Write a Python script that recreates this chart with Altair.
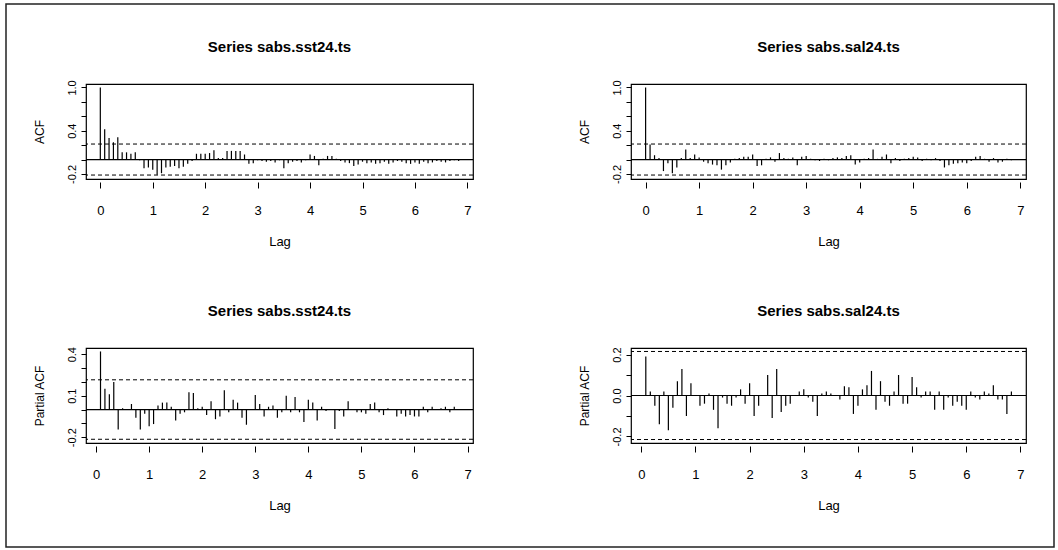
import altair as alt
import pandas as pd

# ---------------- data ----------------
LAG_STEP = 1 / 12
CI = 0.215
X_TICKS = [0, 1, 2, 3, 4, 5, 6, 7]

acf_sst = [1.00, 0.42, 0.30, 0.24, 0.31, 0.10, 0.10, 0.08, 0.10, -0.01,
           -0.12, -0.11, -0.14, -0.21, -0.19, -0.11, -0.10, -0.09, -0.12, -0.10,
           -0.06, -0.02, 0.08, 0.08, 0.08, 0.09, 0.13, 0.02, 0.02, 0.12,
           0.12, 0.12, 0.12, 0.07, -0.06, -0.05, -0.01, -0.02, -0.03, -0.02,
           -0.04, -0.01, -0.12, -0.05, -0.03, -0.02, -0.04, -0.01, 0.07, 0.05,
           -0.08, 0.01, 0.05, 0.05, 0.01, -0.02, -0.04, -0.05, -0.09, -0.07,
           -0.03, -0.05, -0.04, -0.06, -0.05, -0.03, -0.06, -0.04, -0.02, -0.03,
           -0.05, -0.06, -0.04, -0.06, -0.03, -0.05, -0.04, -0.02, -0.03, -0.04,
           -0.02, -0.01, -0.02]

acf_sal = [1.00, 0.21, 0.06, 0.02, -0.16, -0.05, -0.19, -0.11, 0.02, 0.14,
           0.02, 0.07, 0.03, -0.03, -0.05, -0.07, -0.08, -0.14, -0.08, -0.04,
           0.01, 0.02, 0.04, 0.04, 0.07, -0.09, -0.08, 0.01, 0.03, -0.03,
           0.09, 0.02, 0.01, 0.03, -0.08, 0.04, 0.05, 0.01, -0.01, -0.02,
           0.01, -0.01, 0.02, 0.03, 0.02, 0.05, 0.06, -0.07, -0.04, 0.01,
           0.02, 0.14, 0.01, 0.04, 0.07, -0.05, 0.02, -0.02, 0.01, 0.02,
           0.04, 0.03, -0.02, 0.01, -0.01, 0.02, -0.02, -0.11, -0.08, -0.06,
           -0.05, -0.04, -0.05, -0.02, 0.04, 0.05, 0.01, -0.03, 0.02, -0.04,
           -0.03, 0.01, -0.01]

pacf_sst = [0.42, 0.15, 0.11, 0.20, -0.145, 0.01, 0.00, 0.04, -0.06, -0.145,
            -0.03, -0.12, -0.105, 0.03, 0.05, 0.05, 0.02, -0.08, -0.03, -0.02,
            0.125, 0.12, 0.01, 0.02, -0.04, 0.06, -0.07, -0.05, 0.14, -0.02,
            0.07, 0.05, -0.06, -0.11, 0.00, 0.105, 0.04, -0.05, 0.02, 0.03,
            -0.06, -0.02, 0.10, -0.02, 0.09, -0.02, -0.09, 0.07, 0.05, -0.08,
            0.02, -0.01, 0.00, -0.14, -0.01, -0.05, 0.06, 0.00, -0.02, -0.02,
            -0.03, 0.04, 0.05, -0.02, -0.04, 0.01, 0.00, -0.05, -0.03, -0.05,
            -0.04, -0.05, -0.05, 0.02, -0.02, 0.02, 0.00, 0.01, 0.02, -0.02,
            0.02, 0.00]

pacf_sal = [0.19, 0.02, -0.05, -0.14, 0.02, -0.17, -0.06, 0.07, 0.13, -0.10,
            0.06, 0.00, -0.05, -0.04, 0.01, -0.07, -0.16, -0.01, -0.04, -0.05,
            -0.01, 0.03, -0.04, 0.06, -0.10, -0.05, 0.00, 0.10, -0.11, 0.13,
            -0.08, -0.05, -0.04, 0.00, 0.02, 0.03, -0.01, -0.03, -0.10, 0.01,
            0.02, 0.01, 0.00, -0.02, 0.045, 0.04, -0.09, -0.05, 0.03, 0.05,
            0.12, -0.07, 0.07, -0.03, -0.05, 0.02, 0.10, -0.04, -0.04, 0.09,
            0.04, -0.01, 0.02, 0.02, -0.07, 0.02, -0.07, -0.01, -0.05, -0.03,
            -0.05, -0.07, 0.02, -0.01, -0.02, 0.02, 0.01, 0.05, -0.02, -0.02,
            -0.09, 0.02]

ACF_TICKS = [-0.2, 0.0, 0.2, 0.4, 0.6, 0.8, 1.0]
ACF_LABELS = {-0.2: "-0.2", 0.4: "0.4", 1.0: "1.0"}
PACF_SST_TICKS = [-0.2, -0.1, 0.0, 0.1, 0.2, 0.3, 0.4]
PACF_SST_LABELS = {-0.2: "-0.2", 0.1: "0.1", 0.4: "0.4"}
PACF_SAL_TICKS = [-0.2, -0.1, 0.0, 0.1, 0.2]
PACF_SAL_LABELS = {-0.2: "-0.2", 0.0: "0.0", 0.2: "0.2"}

TITLES = ["Series sabs.sst24.ts", "Series sabs.sal24.ts"]

NARROW = "Liberation Sans Narrow, Liberation Sans, Arial, sans-serif"
REG = "Liberation Sans, Arial, sans-serif"


def label_expr(labels):
    expr = "''"
    for v, s in labels.items():
        expr = f"abs(datum.value - ({v})) < 0.001 ? '{s}' : ({expr})"
    return expr


def panel(values, start, title, ytitle, ydomain, yticks, ylabels, xdomain, w, h, border=False):
    df = pd.DataFrame({
        "lag": [(start + i) * LAG_STEP for i in range(len(values))],
        "value": values,
    })
    xs = alt.Scale(domain=xdomain, nice=False, zero=False)
    ys = alt.Scale(domain=ydomain, nice=False, zero=False)
    xaxis = alt.Axis(values=X_TICKS, format="d", title="Lag", grid=False, domain=False,
                     tickSize=6, tickColor="black", tickWidth=1, offset=3,
                     labelPadding=16, labelFont=NARROW, labelFontSize=13, labelColor="black",
                     labelFlush=False, labelOverlap=False,
                     titleFont=NARROW, titleFontSize=13, titleFontWeight="normal",
                     titleColor="black", titleY=59, titleBaseline="middle")
    yaxis = alt.Axis(values=yticks, title=ytitle, labelExpr=label_expr(ylabels),
                     grid=False, domain=False, tickSize=5, tickColor="black", tickWidth=1,
                     labelAngle=-90, labelAlign="center", labelBaseline="alphabetic",
                     labelPadding=6, labelFont=REG, labelFontSize=11, labelColor="black",
                     labelFlush=False, labelOverlap=False,
                     titleFont=REG, titleFontSize=12, titleFontWeight="normal",
                     titleColor="black", titleAngle=270, titleX=-47, titleY=h / 2,
                     titleAlign="center", titleBaseline="middle")
    one = pd.DataFrame({"a": [0]})
    tdf = pd.DataFrame({"t": [title]})
    bars = alt.Chart(df).mark_rule(color="black", strokeWidth=1.2).encode(
        x=alt.X("lag:Q", scale=xs, axis=xaxis),
        y=alt.Y("value:Q", scale=ys, axis=yaxis),
        y2=alt.datum(0),
    )
    zero = alt.Chart(one).mark_rule(color="black", strokeWidth=1.2).encode(
        y=alt.YDatum(0, scale=ys, axis=yaxis))
    ci_hi = alt.Chart(one).mark_rule(color="black", strokeWidth=1, strokeDash=[4, 3]).encode(
        y=alt.YDatum(CI, scale=ys, axis=yaxis))
    ci_lo = alt.Chart(one).mark_rule(color="black", strokeWidth=1, strokeDash=[4, 3]).encode(
        y=alt.YDatum(-CI, scale=ys, axis=yaxis))
    ttl = alt.Chart(tdf).mark_text(font=NARROW, fontSize=15, fontWeight="bold", color="black",
                                   align="center", baseline="middle").encode(
        x=alt.value(w / 2), y=alt.value(-37), text="t:N")
    layers = [bars, zero, ci_hi, ci_lo, ttl]
    if border:
        frame = alt.Chart(one).mark_rect(filled=False, color="#222222", strokeWidth=1.5).encode(
            x=alt.value(-80), x2=alt.value(968), y=alt.value(-80), y2=alt.value(463))
        layers.append(frame)
    return alt.layer(*layers).properties(width=w, height=h)


ACF_X = [-0.273, 7.107]
PACF_X = [-0.19, 7.103]

tl = panel(acf_sst, 0, TITLES[0], "ACF", [-0.27, 1.048], ACF_TICKS, ACF_LABELS,
           ACF_X, 387, 95, border=True)
tr = panel(acf_sal, 0, TITLES[1], "ACF", [-0.27, 1.048], ACF_TICKS, ACF_LABELS,
           ACF_X, 395, 95)
bl = panel(pacf_sst, 1, TITLES[0], "Partial ACF", [-0.242, 0.445],
           PACF_SST_TICKS, PACF_SST_LABELS, PACF_X, 387, 95)
br = panel(pacf_sal, 1, TITLES[1], "Partial ACF", [-0.232, 0.232],
           PACF_SAL_TICKS, PACF_SAL_LABELS, PACF_X, 395, 95)

chart = alt.concat(tl, tr, bl, br, columns=2, spacing={"row": 169, "column": 158},
                   bounds="flush", align="each").properties(
    padding={"left": 4, "top": 2, "right": 2, "bottom": 2},
    background="white",
).configure_view(stroke="black", strokeWidth=1.2).configure_axis(labelOverlap=False)

chart.save("out.html", embed_options={"renderer": "svg", "actions": False})
